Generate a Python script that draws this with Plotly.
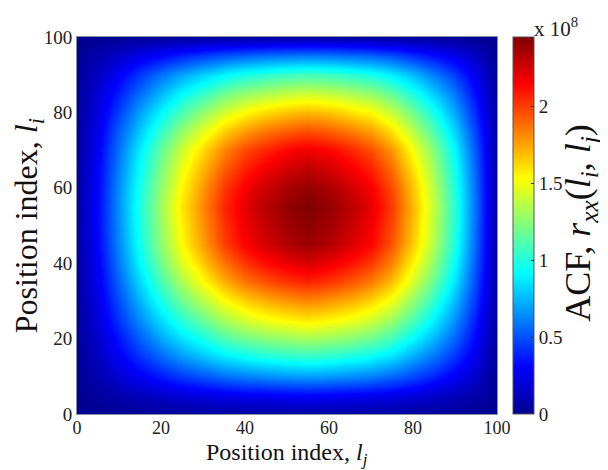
import plotly.graph_objects as go

# Position grid (both axes), step 5
pos_j = [0, 5, 10, 15, 20, 25, 30, 35, 40, 45, 50, 55, 60, 65, 70, 75, 80, 85, 90, 95, 100]
pos_i = [0, 5, 10, 15, 20, 25, 30, 35, 40, 45, 50, 55, 60, 65, 70, 75, 80, 85, 90, 95, 100]

# ACF values (units of 1e8), rows = l_i (bottom to top), cols = l_j
acf_rows = [
    [0.00,0.01,0.01,0.02,0.03,0.03,0.04,0.04,0.05,0.05,0.05,0.05,0.05,0.05,0.04,0.04,0.03,0.03,0.02,0.01,0.00],
    [0.01,0.04,0.08,0.13,0.16,0.20,0.23,0.26,0.28,0.29,0.30,0.31,0.30,0.29,0.28,0.25,0.22,0.17,0.13,0.07,0.01],
    [0.01,0.09,0.19,0.28,0.37,0.45,0.51,0.58,0.62,0.65,0.68,0.69,0.68,0.65,0.62,0.56,0.48,0.39,0.28,0.16,0.01],
    [0.02,0.13,0.28,0.42,0.55,0.67,0.77,0.86,0.93,0.98,1.01,1.03,1.01,0.97,0.92,0.84,0.71,0.58,0.42,0.24,0.02],
    [0.03,0.17,0.35,0.53,0.70,0.85,0.97,1.10,1.18,1.24,1.28,1.31,1.28,1.24,1.18,1.07,0.91,0.74,0.54,0.30,0.03],
    [0.03,0.21,0.43,0.64,0.84,1.02,1.17,1.32,1.43,1.50,1.55,1.58,1.55,1.49,1.42,1.29,1.10,0.89,0.65,0.36,0.03],
    [0.04,0.24,0.49,0.74,0.97,1.18,1.35,1.52,1.64,1.72,1.78,1.82,1.78,1.72,1.63,1.49,1.26,1.03,0.75,0.42,0.04],
    [0.04,0.27,0.55,0.83,1.09,1.33,1.53,1.72,1.86,1.95,2.02,2.06,2.02,1.94,1.85,1.68,1.43,1.16,0.85,0.47,0.04],
    [0.05,0.29,0.60,0.91,1.19,1.45,1.66,1.87,2.02,2.12,2.19,2.24,2.19,2.11,2.01,1.83,1.55,1.26,0.92,0.51,0.05],
    [0.05,0.31,0.64,0.96,1.26,1.54,1.77,1.99,2.15,2.25,2.33,2.38,2.33,2.24,2.14,1.94,1.65,1.34,0.98,0.54,0.05],
    [0.05,0.32,0.65,0.98,1.28,1.56,1.79,2.02,2.18,2.29,2.37,2.42,2.37,2.28,2.17,1.97,1.68,1.36,1.00,0.55,0.05],
    [0.05,0.32,0.66,0.99,1.30,1.59,1.82,2.05,2.21,2.32,2.40,2.45,2.40,2.31,2.20,2.00,1.70,1.38,1.01,0.56,0.05],
    [0.05,0.31,0.65,0.97,1.27,1.55,1.78,2.01,2.16,2.27,2.35,2.40,2.35,2.26,2.16,1.96,1.67,1.35,0.99,0.55,0.05],
    [0.05,0.30,0.62,0.93,1.22,1.49,1.71,1.92,2.07,2.18,2.25,2.30,2.25,2.17,2.07,1.88,1.60,1.30,0.95,0.53,0.05],
    [0.04,0.28,0.59,0.88,1.16,1.41,1.62,1.82,1.97,2.06,2.14,2.18,2.14,2.06,1.96,1.78,1.51,1.23,0.90,0.50,0.04],
    [0.04,0.26,0.53,0.79,1.04,1.27,1.46,1.64,1.77,1.86,1.92,1.96,1.92,1.85,1.76,1.60,1.36,1.10,0.81,0.45,0.04],
    [0.03,0.22,0.46,0.69,0.90,1.10,1.26,1.42,1.53,1.61,1.67,1.70,1.67,1.60,1.53,1.39,1.18,0.96,0.70,0.39,0.03],
    [0.03,0.19,0.38,0.57,0.75,0.92,1.05,1.19,1.28,1.34,1.39,1.42,1.39,1.34,1.28,1.16,0.99,0.80,0.59,0.32,0.03],
    [0.02,0.14,0.29,0.44,0.58,0.71,0.81,0.91,0.98,1.03,1.07,1.09,1.07,1.03,0.98,0.89,0.76,0.61,0.45,0.25,0.02],
    [0.01,0.08,0.16,0.25,0.32,0.39,0.45,0.51,0.55,0.58,0.60,0.61,0.60,0.58,0.55,0.50,0.42,0.34,0.25,0.14,0.01],
    [0.00,0.01,0.01,0.02,0.03,0.03,0.04,0.04,0.05,0.05,0.05,0.05,0.05,0.05,0.04,0.04,0.03,0.03,0.02,0.01,0.00],
]
scale_exp = 8
z_max = 2.45

axis_ticks = [0, 20, 40, 60, 80, 100]
cbar_ticks = [0, 0.5, 1, 1.5, 2]
cbar_ticktext = ["0", "0.5", "1", "1.5", "2"]

x_title = "Position index, <i>l</i><sub><i>j</i></sub>"
y_title = "Position index, <i>l</i><sub><i>i</i></sub>"
cb_title = "ACF, <i>r</i><sub><i>xx</i></sub>(<i>l</i><sub><i>i</i></sub>, <i>l</i><sub><i>j</i></sub>)"

jet = [
    [0.0, "rgb(0,0,143)"],
    [0.125, "rgb(0,0,255)"],
    [0.375, "rgb(0,255,255)"],
    [0.625, "rgb(255,255,0)"],
    [0.875, "rgb(255,0,0)"],
    [1.0, "rgb(128,0,0)"],
]

FONT = "Liberation Serif, Times New Roman, serif"

fig = go.Figure(
    go.Heatmap(
        x=pos_j,
        y=pos_i,
        z=acf_rows,
        zmin=0,
        zmax=z_max,
        zsmooth="best",
        colorscale=jet,
        colorbar=dict(
            x=1.038,
            xanchor="left",
            xpad=0,
            y=0.5,
            yanchor="middle",
            len=1.0,
            lenmode="fraction",
            thickness=21,
            thicknessmode="pixels",
            outlinewidth=1,
            outlinecolor="#555",
            tickvals=cbar_ticks,
            ticktext=cbar_ticktext,
            ticks="inside",
            ticklen=3,
            tickcolor="#333",
            tickfont=dict(family=FONT, size=19, color="#222"),
            ypad=0,
        ),
    )
)

fig.update_layout(
    width=600,
    height=462,
    margin=dict(l=69, r=111, t=29, b=56),
    paper_bgcolor="white",
    plot_bgcolor="white",
    font=dict(family=FONT, color="#222"),
    xaxis=dict(
        range=[0, 100],
        tickvals=axis_ticks,
        ticks="",
        ticklabelstandoff=-3,
        showgrid=False,
        zeroline=False,
        showline=True,
        linecolor="#8890a8",
        linewidth=1,
        mirror=True,
        tickfont=dict(family=FONT, size=18, color="#222"),
        automargin=False,
    ),
    yaxis=dict(
        range=[0, 100],
        tickvals=axis_ticks,
        ticks="",
        showgrid=False,
        zeroline=False,
        showline=True,
        linecolor="#8890a8",
        linewidth=1,
        mirror=True,
        tickfont=dict(family=FONT, size=19, color="#222"),
        automargin=False,
    ),
    annotations=[
        dict(
            text=x_title,
            xref="paper", yref="paper",
            x=0.5, y=-0.107,
            xanchor="center", yanchor="middle",
            borderpad=0,
            showarrow=False,
            font=dict(family=FONT, size=24, color="#111"),
        ),
        dict(
            text=y_title,
            xref="paper", yref="paper",
            x=-0.115, y=0.5,
            xanchor="center", yanchor="middle",
            textangle=-90,
            showarrow=False,
            font=dict(family=FONT, size=32, color="#111"),
        ),
        dict(
            text="x 10<sup>%d</sup>" % scale_exp,
            xref="paper", yref="paper",
            x=1.083, y=1.025,
            xanchor="left", yanchor="middle",
            showarrow=False,
            font=dict(family=FONT, size=21, color="#222"),
        ),
        dict(
            text=cb_title,
            xref="paper", yref="paper",
            x=1.2, y=0.507,
            xanchor="center", yanchor="middle",
            textangle=-90,
            showarrow=False,
            font=dict(family=FONT, size=36, color="#111"),
        ),
    ],
)

fig.write_html("out.html")
